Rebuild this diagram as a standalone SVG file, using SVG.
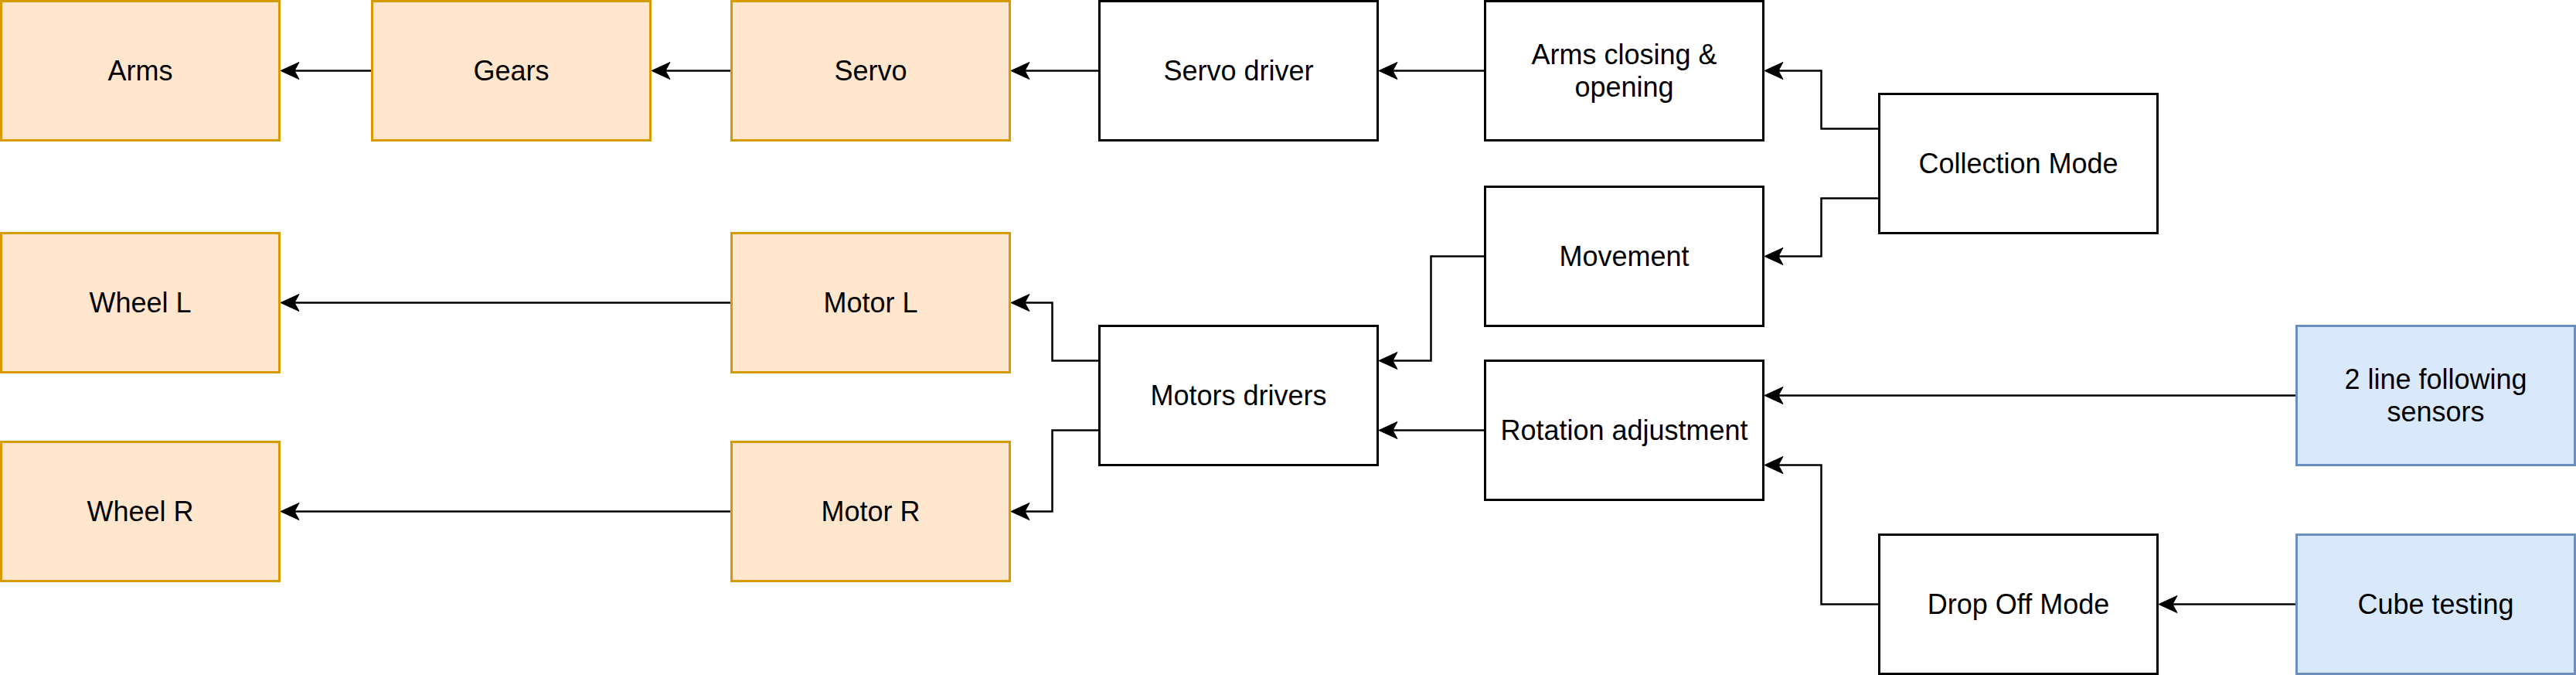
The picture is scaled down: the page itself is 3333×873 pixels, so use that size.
<svg xmlns="http://www.w3.org/2000/svg" width="3333" height="873" viewBox="0 0 3333 873">
<style>
.box{stroke-width:3}
.plain{fill:#ffffff;stroke:#000000}
.orange{fill:#ffe6cc;stroke:#d79b00}
.blue{fill:#dae8fc;stroke:#6c8ebf}
text{font-family:"Liberation Sans",Arial,Helvetica,sans-serif;font-size:36px;fill:#000000;text-anchor:middle}
.edge{fill:none;stroke:#000000;stroke-width:2.5;marker-end:url(#arr)}
</style>
<defs>
<marker id="arr" markerUnits="userSpaceOnUse" markerWidth="24" markerHeight="24" viewBox="0 0 24 24" refX="6" refY="12" orient="auto" overflow="visible">
<path d="M0 1 L24 12 L0 23 L6 12 Z" fill="#000000" stroke="#000000" stroke-width="1"/>
</marker>
</defs>
<rect width="3333" height="873" fill="#ffffff"/>
<g id="connectors">
<path class="edge" d="M481.5 91.5 H381"/>
<path class="edge" d="M946.5 91.5 H861"/>
<path class="edge" d="M1422.5 91.5 H1326"/>
<path class="edge" d="M1921.5 91.5 H1802"/>
<path class="edge" d="M2431.5 166.5 H2356.5 V91.5 H2301"/>
<path class="edge" d="M2431.5 256.5 H2356.5 V331.5 H2301"/>
<path class="edge" d="M1921.5 331.5 H1851.5 V466.5 H1802"/>
<path class="edge" d="M1921.5 556.5 H1802"/>
<path class="edge" d="M2971.5 511.5 H2301"/>
<path class="edge" d="M2431.5 781.5 H2356.5 V601.5 H2301"/>
<path class="edge" d="M2971.5 781.5 H2811"/>
<path class="edge" d="M1422.5 466.5 H1361.5 V391.5 H1326"/>
<path class="edge" d="M1422.5 556.5 H1361.5 V661.5 H1326"/>
<path class="edge" d="M946.5 391.5 H381"/>
<path class="edge" d="M946.5 661.5 H381"/>
</g>
<g id="arms"><rect class="box orange" x="1.5" y="1.5" width="360" height="180"/><text x="181.5" y="104">Arms</text></g>
<g id="gears"><rect class="box orange" x="481.5" y="1.5" width="360" height="180"/><text x="661.5" y="104">Gears</text></g>
<g id="servo"><rect class="box orange" x="946.5" y="1.5" width="360" height="180"/><text x="1126.5" y="104">Servo</text></g>
<g id="servo-driver"><rect class="box plain" x="1422.5" y="1.5" width="360" height="180"/><text x="1602.5" y="104">Servo driver</text></g>
<g id="arms-closing"><rect class="box plain" x="1921.5" y="1.5" width="360" height="180"/><text x="2101.5" y="83">Arms closing &amp;</text><text x="2101.5" y="125">opening</text></g>
<g id="collection-mode"><rect class="box plain" x="2431.5" y="121.5" width="360" height="180"/><text x="2611.5" y="224">Collection Mode</text></g>
<g id="movement"><rect class="box plain" x="1921.5" y="241.5" width="360" height="180"/><text x="2101.5" y="344">Movement</text></g>
<g id="wheel-l"><rect class="box orange" x="1.5" y="301.5" width="360" height="180"/><text x="181.5" y="404">Wheel L</text></g>
<g id="motor-l"><rect class="box orange" x="946.5" y="301.5" width="360" height="180"/><text x="1126.5" y="404">Motor L</text></g>
<g id="motors-drivers"><rect class="box plain" x="1422.5" y="421.5" width="360" height="180"/><text x="1602.5" y="524">Motors drivers</text></g>
<g id="rotation-adjustment"><rect class="box plain" x="1921.5" y="466.5" width="360" height="180"/><text x="2101.5" y="569">Rotation adjustment</text></g>
<g id="line-sensors"><rect class="box blue" x="2971.5" y="421.5" width="360" height="180"/><text x="3151.5" y="503">2 line following</text><text x="3151.5" y="545">sensors</text></g>
<g id="wheel-r"><rect class="box orange" x="1.5" y="571.5" width="360" height="180"/><text x="181.5" y="674">Wheel R</text></g>
<g id="motor-r"><rect class="box orange" x="946.5" y="571.5" width="360" height="180"/><text x="1126.5" y="674">Motor R</text></g>
<g id="drop-off-mode"><rect class="box plain" x="2431.5" y="691.5" width="360" height="180"/><text x="2611.5" y="794">Drop Off Mode</text></g>
<g id="cube-testing"><rect class="box blue" x="2971.5" y="691.5" width="360" height="180"/><text x="3151.5" y="794">Cube testing</text></g>
</svg>
